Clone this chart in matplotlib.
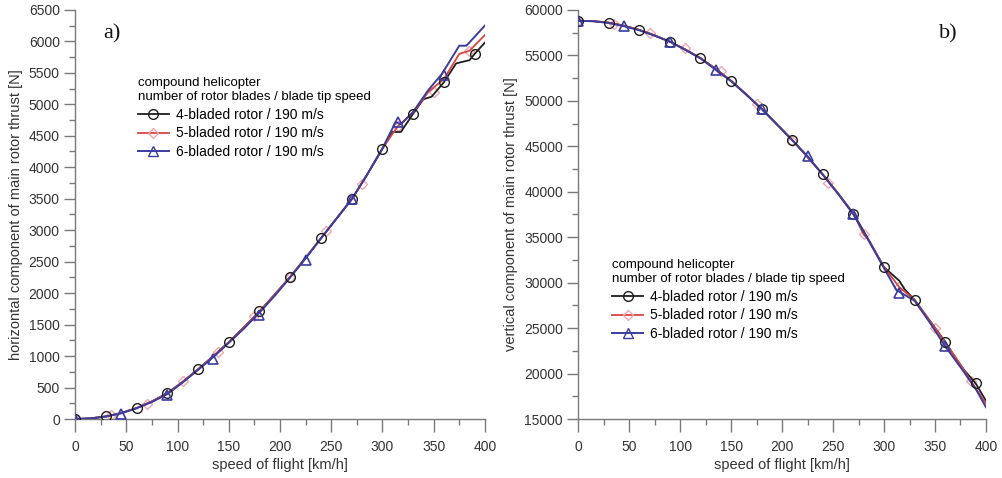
import matplotlib
matplotlib.use("Agg")
import matplotlib.pyplot as plt
from matplotlib.ticker import MultipleLocator
from matplotlib.lines import Line2D

plt.rcParams['font.family'] = ['Liberation Sans', 'DejaVu Sans']

labels = ['4-bladed rotor / 190 m/s', '5-bladed rotor / 190 m/s', '6-bladed rotor / 190 m/s']
legend_title = 'compound helicopter\nnumber of rotor blades / blade tip speed'

# ---- panel a: horizontal component (lines) ----
a_x4 = [0, 15, 30, 45, 60, 75, 90, 105, 120, 135, 150, 165, 180, 195, 210, 225, 240, 255, 270, 285,
        300, 310, 318, 330, 340, 348, 360, 372, 385, 390, 400]
a_y4 = [0, 10, 40, 95, 175, 280, 410, 590, 790, 1000, 1220, 1460, 1710, 1980, 2260, 2560, 2870, 3180, 3490, 3880,
        4290, 4560, 4560, 4850, 5080, 5120, 5350, 5650, 5700, 5800, 5980]
a_x5 = [0, 15, 30, 45, 60, 75, 90, 105, 120, 135, 150, 165, 180, 195, 210, 225, 240, 255, 270, 285,
        300, 315, 330, 345, 360, 375, 385, 400]
a_y5 = [0, 10, 40, 95, 175, 280, 410, 590, 790, 1000, 1220, 1460, 1710, 1980, 2260, 2560, 2870, 3180, 3490, 3880,
        4300, 4650, 4870, 5200, 5400, 5800, 5850, 6100]
a_x6 = [0, 15, 30, 45, 60, 75, 90, 105, 120, 135, 150, 165, 180, 195, 210, 225, 240, 255, 270, 285,
        300, 313, 318, 330, 345, 358, 375, 382, 400]
a_y6 = [0, 10, 40, 90, 170, 270, 395, 580, 780, 985, 1210, 1440, 1690, 1960, 2250, 2550, 2870, 3180, 3490, 3880,
        4300, 4720, 4680, 4880, 5230, 5480, 5930, 5930, 6250]

# panel a markers
a_mx4 = [0, 30, 60, 90, 120, 150, 180, 210, 240, 270, 300, 330, 360, 390]
a_my4 = [0, 40, 175, 410, 790, 1220, 1710, 2260, 2870, 3490, 4290, 4850, 5350, 5800]
a_mx5 = [0, 35, 70, 105, 140, 175, 210, 245, 280, 315, 350, 385]
a_my5 = [0, 60, 240, 600, 1070, 1640, 2260, 2980, 3740, 4650, 5200, 5850]
a_mx6 = [0, 45, 90, 135, 180, 225, 270, 315, 360]
a_my6 = [0, 80, 380, 960, 1660, 2530, 3490, 4720, 5470]

# ---- panel b: vertical component (lines) ----
b_x4 = [0, 15, 30, 45, 60, 75, 90, 105, 120, 135, 150, 165, 180, 195, 210, 225, 240, 255, 270, 285,
        300, 315, 320, 330, 345, 360, 375, 380, 390, 400]
b_y4 = [58800, 58750, 58600, 58250, 57800, 57200, 56500, 55650, 54700, 53500, 52200, 50700, 49100, 47400, 45700,
        43800, 41900, 39800, 37600, 34700, 31700, 30200, 29300, 28100, 25800, 23500, 20900, 20200, 18900, 17000]
b_x5 = [0, 15, 30, 45, 60, 75, 90, 105, 120, 135, 150, 165, 180, 195, 210, 225, 240, 255, 270, 280, 285,
        300, 315, 330, 350, 360, 375, 385, 400]
b_y5 = [58800, 58750, 58600, 58250, 57800, 57200, 56500, 55650, 54700, 53500, 52200, 50700, 49100, 47400, 45700,
        43800, 41900, 39800, 37600, 35300, 34700, 31700, 29500, 28100, 25000, 23400, 21000, 19200, 16700]
b_x6 = [0, 15, 30, 45, 60, 75, 90, 105, 120, 135, 150, 165, 180, 195, 210, 225, 240, 255, 270, 285,
        300, 312, 318, 330, 345, 360, 375, 390, 400]
b_y6 = [58800, 58750, 58550, 58200, 57750, 57150, 56500, 55600, 54650, 53400, 52150, 50650, 49100, 47400, 45650,
        43900, 41850, 39750, 37500, 34600, 31600, 29200, 28800, 28000, 25600, 23000, 20700, 18300, 16300]

# panel b markers
b_mx4 = [0, 30, 60, 90, 120, 150, 180, 210, 240, 270, 300, 330, 360, 390]
b_my4 = [58800, 58600, 57800, 56500, 54700, 52200, 49100, 45700, 41900, 37600, 31700, 28100, 23500, 19000]
b_mx5 = [0, 35, 70, 105, 140, 175, 210, 245, 280, 315, 350, 385]
b_my5 = [58800, 58400, 57400, 55800, 53300, 49700, 45600, 41000, 35300, 29500, 25000, 19200]
b_mx6 = [0, 45, 90, 135, 180, 225, 270, 315, 360]
b_my6 = [58800, 58200, 56500, 53400, 49100, 43900, 37500, 28900, 23000]

c_black = '#1e1e1e'
c_red = '#d9453f'
c_blue = '#3a3d9e'
c_pink = '#f0a8b0'


def draw_panel(ax, lines, marks, ylim, ystep, yminor):
    (x4, y4), (x5, y5), (x6, y6) = lines
    (mx4, my4), (mx5, my5), (mx6, my6) = marks
    ax.plot(x4, y4, color=c_black, lw=1.3, zorder=3)
    ax.plot(x5, y5, color=c_red, lw=1.3, zorder=3)
    ax.plot(x6, y6, color=c_blue, lw=1.4, zorder=4)
    ax.plot(mx5, my5, ls='none', marker='D', ms=5.5, mfc='none', mec=c_pink, mew=1.0, zorder=2)
    ax.plot(mx4, my4, ls='none', marker='o', ms=7, mfc='none', mec=c_black, mew=1.0, zorder=5)
    ax.plot(mx6, my6, ls='none', marker='^', ms=7, mfc='none', mec=c_blue, mew=1.2, zorder=5)

    ax.set_xlim(0, 400)
    ax.set_ylim(*ylim)
    ax.xaxis.set_major_locator(MultipleLocator(50))
    ax.xaxis.set_minor_locator(MultipleLocator(25))
    ax.yaxis.set_major_locator(MultipleLocator(ystep))
    ax.yaxis.set_minor_locator(MultipleLocator(yminor))
    for s in ['top', 'right']:
        ax.spines[s].set_visible(False)
    for s in ['left', 'bottom']:
        ax.spines[s].set_color('#7a7a7a')
        ax.spines[s].set_linewidth(1.0)
    ax.tick_params(which='major', direction='out', length=8, width=1.0, color='#7a7a7a',
                   labelsize=10, labelcolor='#333333', pad=3)
    ax.tick_params(axis='x', which='major', length=9, pad=6)
    ax.tick_params(which='minor', direction='out', length=4.5, width=1.0, color='#7a7a7a')
    ax.set_xlabel('speed of flight [km/h]', fontsize=10.5, color='#333333', labelpad=3)

    handles = [
        Line2D([], [], color=c_black, lw=1.3, marker='o', ms=7, mfc='none', mec=c_black),
        Line2D([], [], color=c_red, lw=1.3, marker='D', ms=5.5, mfc='none', mec=c_pink),
        Line2D([], [], color=c_blue, lw=1.4, marker='^', ms=7, mfc='none', mec=c_blue),
    ]
    return handles


fig = plt.figure(figsize=(10.02, 4.78), dpi=100)
ax1 = fig.add_axes([0.0749, 0.1234, 0.409, 0.856])
ax2 = fig.add_axes([0.577, 0.1234, 0.407, 0.856])

h = draw_panel(ax1, [(a_x4, a_y4), (a_x5, a_y5), (a_x6, a_y6)],
               [(a_mx4, a_my4), (a_mx5, a_my5), (a_mx6, a_my6)],
               (0, 6500), 500, 250)
ax1.set_ylabel('horizontal component of main rotor thrust [N]', fontsize=10.5, color='#333333', labelpad=4)
leg = ax1.legend(h, labels, title=legend_title, loc='upper left', bbox_to_anchor=(0.13, 0.86),
                 frameon=False, fontsize=10, title_fontsize=9.5, handlelength=2.2,
                 handletextpad=0.5, labelspacing=0.35, borderpad=0.2)
leg._legend_box.align = 'left'
ax1.text(0.07, 0.965, 'a)', transform=ax1.transAxes, fontsize=16, family='Liberation Serif',
         va='top', ha='left', color='#111111')

h = draw_panel(ax2, [(b_x4, b_y4), (b_x5, b_y5), (b_x6, b_y6)],
               [(b_mx4, b_my4), (b_mx5, b_my5), (b_mx6, b_my6)],
               (15000, 60000), 5000, 2500)
ax2.set_ylabel('vertical component of main rotor thrust [N]', fontsize=10.5, color='#333333', labelpad=4)
leg = ax2.legend(h, labels, title=legend_title, loc='upper left', bbox_to_anchor=(0.06, 0.415),
                 frameon=False, fontsize=10, title_fontsize=9.5, handlelength=2.2,
                 handletextpad=0.5, labelspacing=0.35, borderpad=0.2)
leg._legend_box.align = 'left'
ax2.text(0.93, 0.965, 'b)', transform=ax2.transAxes, fontsize=16, family='Liberation Serif',
         va='top', ha='right', color='#111111')

fig.savefig('out.png', dpi=100)
